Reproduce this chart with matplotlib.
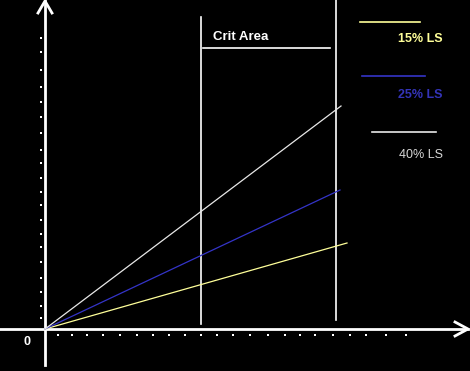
import matplotlib.pyplot as plt

plt.rcParams['font.family'] = ['Liberation Sans', 'DejaVu Sans']

# series: line end points (origin at 0,0)
series_names = ['15% LS', '25% LS', '40% LS']
series_x_end = [302, 295, 296]
series_y_end = [86, 139, 223]
series_colors = ['#ffff99', '#3434c8', '#e8e8e8']
text_colors = ['#ffff99', '#3434b8', '#d8d8d8']

# critical area bounds
crit_left = 156
crit_right = 291
crit_label = 'Crit Area'

# tick dots
xdots = [13, 27, 42, 58, 75, 92, 108, 124, 140, 156, 172, 188, 205, 223,
         240, 255, 270, 288, 305, 321, 341, 361]
ydots = [11, 23, 37, 51, 67, 82, 95, 109, 124, 137, 151, 166, 179, 196,
         212, 227, 242, 259, 277, 291]

fig = plt.figure(figsize=(4.7, 3.71), dpi=100, facecolor='black')
ax = fig.add_axes([0, 0, 1, 1])
ax.set_facecolor('black')
ax.set_xlim(-45, 425)
ax.set_ylim(-42, 329)
ax.axis('off')

# axes with open arrows
ax.plot([-45, 423], [0, 0], color='white', lw=2)
ax.plot([0, 0], [-36, 328], color='white', lw=2)
ax.plot([410, 423, 410], [-7, 0, 7], color='white', lw=2)
ax.plot([-7, 0, 7], [316, 328, 316], color='white', lw=2)

ax.scatter(xdots, [-6] * len(xdots), s=4, color='white', marker='s', lw=0)
ax.scatter([-4] * len(ydots), ydots, s=4, color='white', marker='s', lw=0)
ax.text(-18, -13, '0', color='white', fontsize=9, fontweight='bold',
        ha='center', va='center')

# critical area
ax.plot([crit_left, crit_left], [5, 312], color='white', lw=1.2)
ax.plot([crit_right, crit_right], [9, 329], color='white', lw=1.2)
ax.plot([crit_left + 2, crit_right - 6], [281, 281], color='white', lw=1.2)
ax.text(crit_left + 12, 292, crit_label, color='white', fontsize=9.5,
        fontweight='bold', ha='left', va='center')

# lines
for xe, ye, c in zip(series_x_end, series_y_end, series_colors):
    ax.plot([0, xe], [0, ye], color=c, lw=0.9)

# legend
leg_y = [307, 253, 197]
leg_x0 = [315, 317, 327]
leg_x1 = [375, 380, 391]
txt_y = [290, 234, 174]
for i, name in enumerate(series_names):
    ax.plot([leg_x0[i], leg_x1[i]], [leg_y[i], leg_y[i]],
            color=series_colors[i], lw=1.2)
    ax.text(398, txt_y[i], name, color=text_colors[i], fontsize=9,
            fontweight='bold' if i < 2 else 'normal', ha='right', va='center')

fig.savefig('out.png', dpi=100, facecolor='black')
